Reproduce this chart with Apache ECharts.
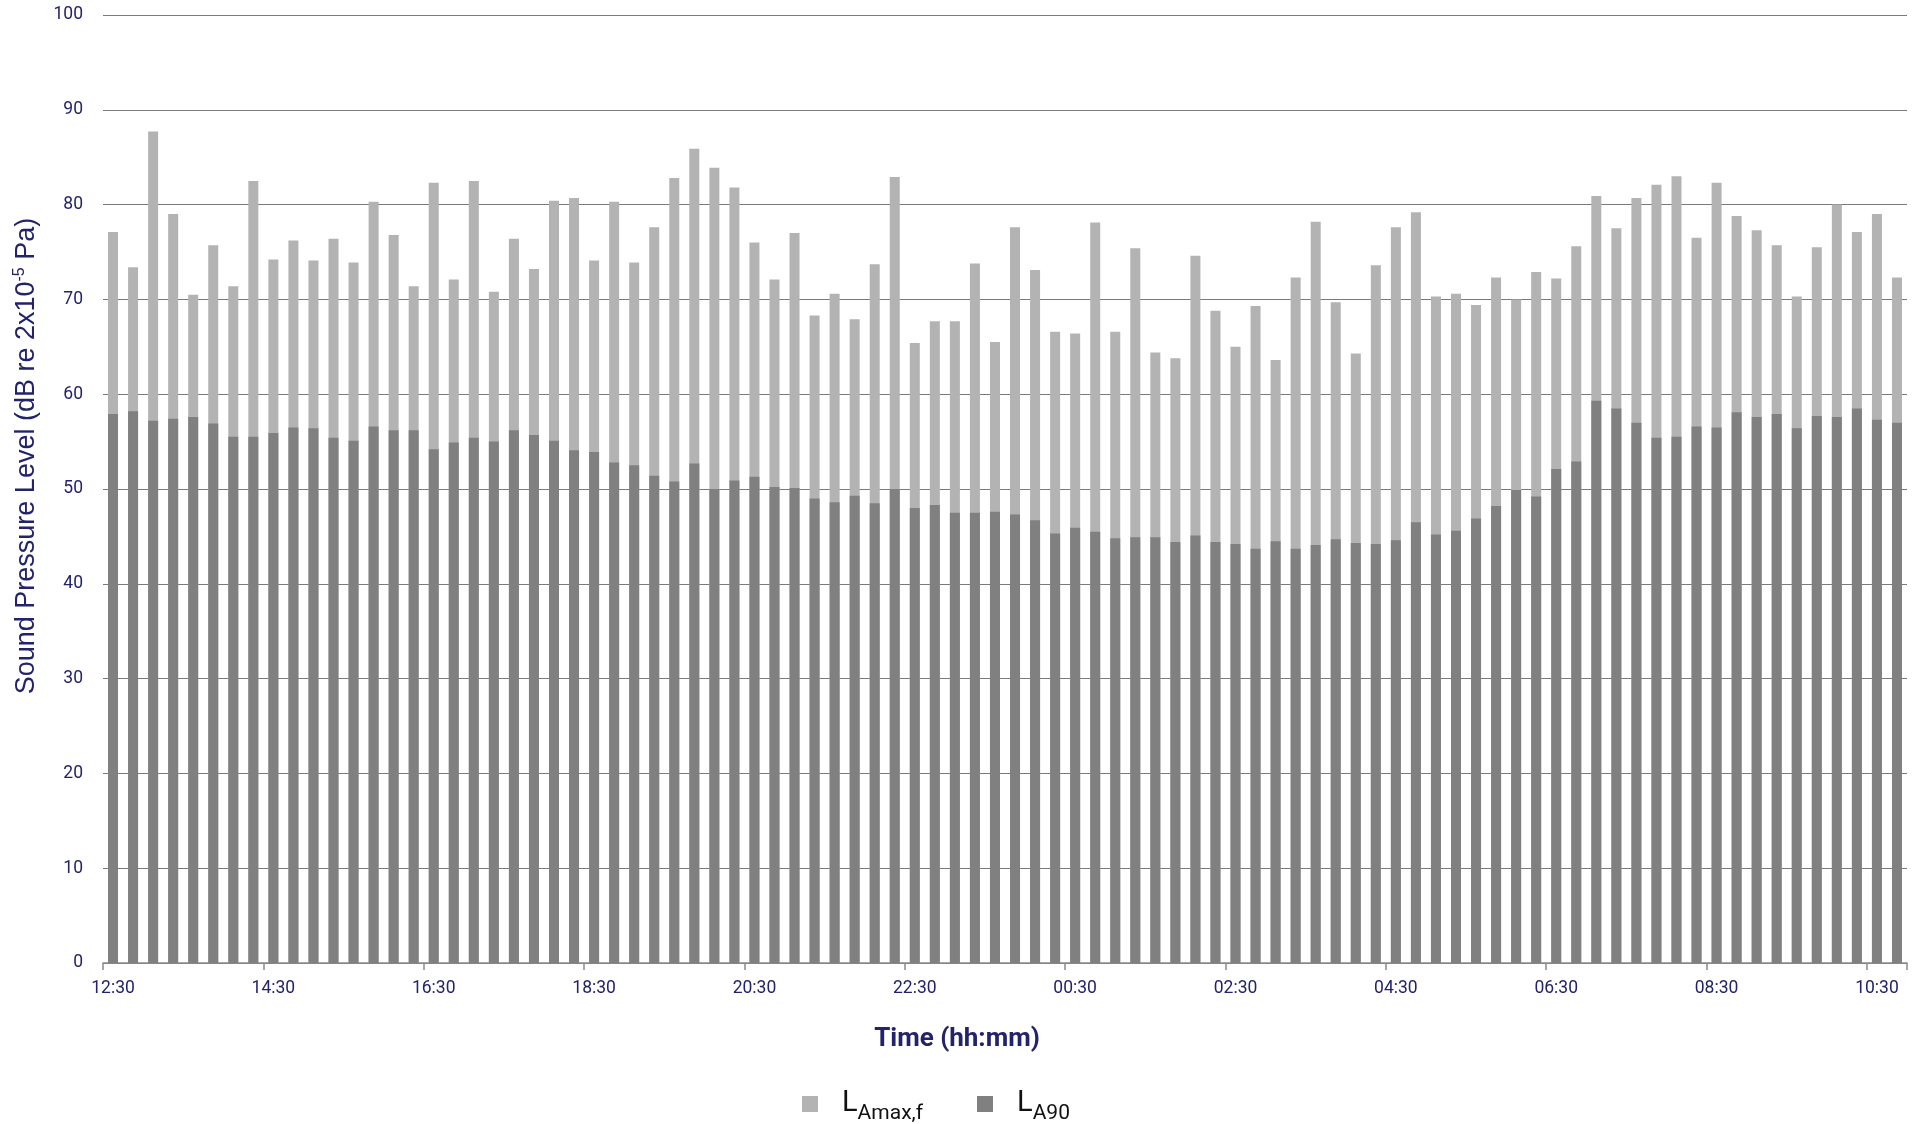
<!DOCTYPE html>
<html>
<head>
<meta charset="utf-8">
<script src="https://cdn.jsdelivr.net/npm/echarts@6/dist/echarts.min.js"></script>
<style>
html,body{margin:0;padding:0;background:#fff;}
#chart{width:1917px;height:1124px;}
</style>
</head>
<body>
<div id="chart"></div>
<script>
const times = ["12:30","12:45","13:00","13:15","13:30","13:45","14:00","14:15",
"14:30","14:45","15:00","15:15","15:30","15:45","16:00","16:15",
"16:30","16:45","17:00","17:15","17:30","17:45","18:00","18:15",
"18:30","18:45","19:00","19:15","19:30","19:45","20:00","20:15",
"20:30","20:45","21:00","21:15","21:30","21:45","22:00","22:15",
"22:30","22:45","23:00","23:15","23:30","23:45","00:00","00:15",
"00:30","00:45","01:00","01:15","01:30","01:45","02:00","02:15",
"02:30","02:45","03:00","03:15","03:30","03:45","04:00","04:15",
"04:30","04:45","05:00","05:15","05:30","05:45","06:00","06:15",
"06:30","06:45","07:00","07:15","07:30","07:45","08:00","08:15",
"08:30","08:45","09:00","09:15","09:30","09:45","10:00","10:15",
"10:30","10:45"];

const lAmaxF = [77.1,73.4,87.7,79.0,70.5,75.7,71.4,82.5,74.2,76.2,74.1,76.4,73.9,80.3,76.8,
71.4,82.3,72.1,82.5,70.8,76.4,73.2,80.4,80.7,74.1,80.3,73.9,77.6,82.8,85.9,
83.9,81.8,76.0,72.1,77.0,68.3,70.6,67.9,73.7,82.9,65.4,67.7,67.7,73.8,65.5,
77.6,73.1,66.6,66.4,78.1,66.6,75.4,64.4,63.8,74.6,68.8,65.0,69.3,63.6,72.3,
78.2,69.7,64.3,73.6,77.6,79.2,70.3,70.6,69.4,72.3,70.0,72.9,72.2,75.6,80.9,
77.5,80.7,82.1,83.0,76.5,82.3,78.8,77.3,75.7,70.3,75.5,80.0,77.1,79.0,72.3];

const lA90 = [57.9,58.2,57.2,57.4,57.6,56.9,55.5,55.5,55.9,56.5,56.4,55.4,55.1,56.6,56.2,
56.2,54.2,54.9,55.4,55.0,56.2,55.7,55.1,54.1,53.9,52.8,52.5,51.4,50.8,52.7,
50.0,50.9,51.3,50.2,50.1,49.0,48.6,49.3,48.5,50.0,48.0,48.3,47.5,47.5,47.6,
47.3,46.7,45.3,45.9,45.5,44.8,44.9,44.9,44.4,45.1,44.4,44.2,43.7,44.5,43.7,
44.1,44.7,44.3,44.2,44.6,46.5,45.2,45.6,46.9,48.2,49.9,49.2,52.1,52.9,59.3,
58.5,57.0,55.4,55.5,56.6,56.5,58.1,57.6,57.9,56.4,57.7,57.6,58.5,57.3,57.0];

const yTicks = {min: 0, max: 100, interval: 10};

const navy = '#23236b';
const chart = echarts.init(document.getElementById('chart'), null, {renderer: 'canvas'});
chart.setOption({
  animation: false,
  backgroundColor: '#ffffff',
  grid: {left: 103, right: 10, top: 15, bottom: 161, containLabel: false},
  xAxis: {
    type: 'category',
    data: times,
    boundaryGap: true,
    axisLine: {show: true, lineStyle: {color: '#8a8a8a', width: 1.5}},
    axisTick: {show: true, interval: 7, length: 7, lineStyle: {color: '#8a8a8a', width: 1.5}},
    axisLabel: {interval: 7, color: navy, fontFamily: 'Roboto', fontSize: 17.5, margin: 17},
    splitLine: {show: false}
  },
  yAxis: {
    type: 'value',
    min: yTicks.min, max: yTicks.max, interval: yTicks.interval,
    axisLine: {show: false},
    axisTick: {show: false},
    axisLabel: {color: navy, fontFamily: 'Roboto', fontSize: 17.5, margin: 20},
    splitLine: {show: true, lineStyle: {color: '#7a7a7a', width: 1}}
  },
  legend: {
    left: 797, top: 1084,
    itemWidth: 16, itemHeight: 16, itemGap: 54,
    icon: 'rect',
    data: [{name: 'LAmax,f'}, {name: 'LA90'}],
    formatter: function (n) { return '{L|L}{s|' + n.slice(1) + '}'; },
    textStyle: {
      color: '#111111',
      rich: {
        L: {fontFamily: 'Roboto', fontSize: 29, padding: [0, 0, 0, 19], verticalAlign: 'top', lineHeight: 30},
        s: {fontFamily: 'Roboto', fontSize: 21, verticalAlign: 'top', lineHeight: 21, padding: [14, 0, 0, 0]}
      }
    }
  },
  graphic: [
    {
      type: 'text',
      style: {
        text: 'Time (hh:mm)', x: 957, y: 1039, align: 'center', verticalAlign: 'middle',
        fontFamily: 'Roboto', fontWeight: 'bold', fontSize: 26, fill: navy
      }
    },
    {
      type: 'text',
      x: 26, y: 456, rotation: Math.PI / 2,
      style: {
        text: '{a|Sound Pressure Level (dB re 2x10}{b|-5}{a| Pa)}',
        align: 'center', verticalAlign: 'middle', fill: navy,
        rich: {
          a: {fontFamily: 'Liberation Sans', fontSize: 27, fill: navy, verticalAlign: 'bottom', lineHeight: 29},
          b: {fontFamily: 'Liberation Sans', fontSize: 16, fill: navy, verticalAlign: 'top', lineHeight: 29}
        }
      }
    }
  ],
  series: [
    {
      name: 'LAmax,f', type: 'bar', data: lAmaxF,
      barWidth: 10, barGap: '-100%',
      itemStyle: {color: '#b3b3b3'},
      emphasis: {disabled: true}
    },
    {
      name: 'LA90', type: 'bar', data: lA90,
      barWidth: 10, barGap: '-100%',
      itemStyle: {color: '#808080'},
      emphasis: {disabled: true}
    }
  ]
});
</script>
</body>
</html>
